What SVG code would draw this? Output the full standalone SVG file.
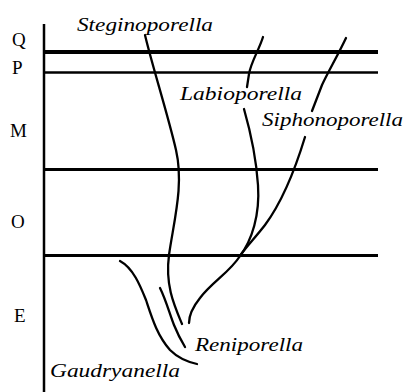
<svg xmlns="http://www.w3.org/2000/svg" width="405" height="392" viewBox="0 0 405 392">
<style>
.ax{stroke:#000;fill:none}
.ln{stroke:#000;fill:none;stroke-width:2.3;stroke-linecap:round}
</style>
<rect width="405" height="392" fill="#fff"/>
<g id="axes">
<line class="ax" x1="44" y1="24" x2="44" y2="392" stroke-width="2.5"/>
<line class="ax" x1="44" y1="52" x2="378" y2="52" stroke-width="4"/>
<line class="ax" x1="44" y1="72.5" x2="378" y2="72.5" stroke-width="2.5"/>
<line class="ax" x1="44" y1="169.5" x2="378" y2="169.5" stroke-width="3"/>
<line class="ax" x1="44" y1="255.5" x2="378" y2="255.5" stroke-width="3"/>
</g>
<g id="epochs" font-family="Liberation Serif, serif" font-size="19" fill="#000">
<text x="12" y="46">Q</text>
<text x="12" y="73.5">P</text>
<text x="10" y="136.5">M</text>
<text x="11" y="228">O</text>
<text x="14" y="321.5">E</text>
</g>
<g id="connectors">
<path class="ln" d="M145,35 C152,65 168,115 176,150 C184,185 174,220 169,255 C165,285 174,305 182,324"/>
<path class="ln" d="M263,37 C259,50 251,62 249,74 L247,87"/>
<path class="ln" d="M244,109 C250,130 256,155 258,185 C260,215 252,240 240,256 C230,272 212,282 200,298 C192,308 189,315 189,323"/>
<path class="ln" d="M346,38 C338,55 328,72 322,85 L312,111"/>
<path class="ln" d="M305,137 C298,160 285,198 265,225 C255,238 245,248 240,256"/>
<path class="ln" d="M120,261 C133,268 140,285 146,300 C152,318 157,335 170,350 C178,358 188,362 197,364"/>
<path class="ln" d="M160,288 C166,300 170,315 174,325 C178,335 182,342 185,347"/>
</g>
<g id="labels" font-family="Liberation Serif, serif" font-size="18" font-style="italic" fill="#000">
<text x="77" y="30.5" textLength="136" lengthAdjust="spacingAndGlyphs">Steginoporella</text>
<text x="180" y="100" textLength="122" lengthAdjust="spacingAndGlyphs">Labioporella</text>
<text x="262" y="125.5" textLength="141" lengthAdjust="spacingAndGlyphs">Siphonoporella</text>
<text x="195" y="351" textLength="108" lengthAdjust="spacingAndGlyphs">Reniporella</text>
<text x="50" y="376.5" textLength="130" lengthAdjust="spacingAndGlyphs">Gaudryanella</text>
</g>
</svg>
